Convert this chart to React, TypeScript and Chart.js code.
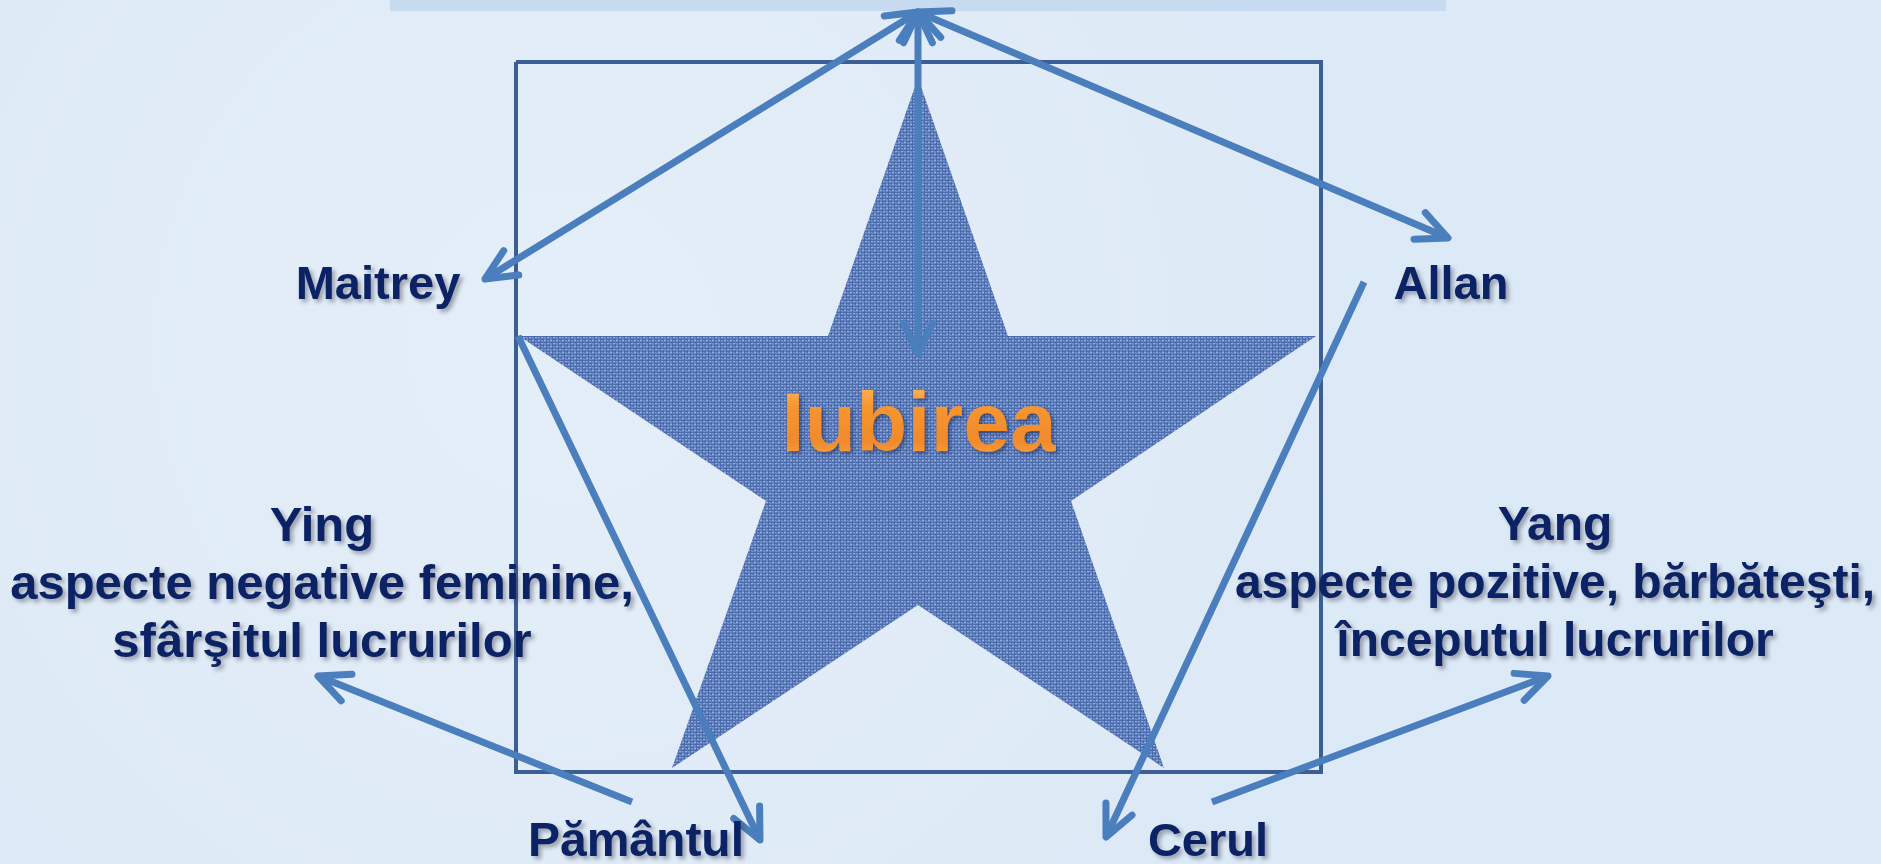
import React, { useEffect, useRef, useState } from 'react';
import { Chart, registerables } from 'chart.js';

Chart.register(...registerables);

const W = 1881;
const H = 864;

// top banner (polygon)
const barX = [390, 1446, 1446, 390, 390];
const barY = [0, 0, 11, 11, 0];

// frame square
const squareX = [516, 1321, 1321, 516, 516];
const squareY = [62, 62, 772, 772, 62];

// star polygon
const starX = [918, 1008, 1316, 1071, 1164, 918, 672, 766, 519, 828, 918];
const starY = [78, 336, 336, 501, 768, 605, 768, 501, 336, 336, 78];

// arrows
const arrowFromX = [918, 918, 918, 518, 1364, 632, 1212];
const arrowFromY = [12, 12, 12, 336, 282, 802, 802];
const arrowToX = [485, 1448, 918, 760, 1106, 318, 1548];
const arrowToY = [279, 238, 354, 840, 837, 676, 676];
const arrowBoth = [true, true, true, false, false, false, false];

// labels
const labelTexts = [
  'Maitrey',
  'Allan',
  'Ying\naspecte negative feminine,\nsfârşitul lucrurilor',
  'Yang\naspecte pozitive, bărbăteşti,\nînceputul lucrurilor',
  'Pământul',
  'Cerul',
];
const labelX = [378, 1451, 322, 1555, 636, 1208];
const labelY = [283, 283, 582, 582, 840, 840];
const labelSizes = [47, 47, 49, 48, 48, 47];

const centerText = 'Iubirea';
const centerX = 919;
const centerY = 422;

const ARROW_COLOR = '#4a7ebd';
const TEXT_COLOR = '#0b2264';

function pts(xs: number[], ys: number[]) {
  return xs.map((x, i) => ({ x, y: ys[i] }));
}

export default function App() {
  const canvasRef = useRef<HTMLCanvasElement>(null);
  const [pos, setPos] = useState<{ x: number; y: number }[]>([]);
  const [cpos, setCpos] = useState<{ x: number; y: number } | null>(null);

  useEffect(() => {
    document.body.style.margin = '0';
    document.body.style.overflow = 'hidden';
    const cv = canvasRef.current!;
    // woven texture tile for the star
    const pc = document.createElement('canvas');
    pc.width = 6;
    pc.height = 6;
    const pctx = pc.getContext('2d')!;
    pctx.fillStyle = '#6787c4';
    pctx.fillRect(0, 0, 6, 6);
    pctx.fillStyle = '#4c6bab';
    pctx.fillRect(0, 0, 6, 1);
    pctx.fillRect(0, 3, 3, 1);
    pctx.fillRect(0, 0, 1, 6);
    pctx.fillRect(3, 2, 1, 3);
    pctx.fillStyle = '#93afe0';
    pctx.fillRect(1, 1, 2, 1);
    pctx.fillRect(4, 4, 2, 1);
    pctx.fillStyle = '#7b99d2';
    pctx.fillRect(4, 1, 1, 1);
    pctx.fillRect(1, 4, 1, 1);
    const pattern = cv.getContext('2d')!.createPattern(pc, 'repeat');

    const datasets: any[] = [];
    datasets.push({
      label: 'bar',
      data: pts(barX, barY),
      showLine: true,
      fill: 'shape',
      backgroundColor: '#c6daf0',
      borderColor: 'transparent',
      borderWidth: 0,
      pointRadius: 0,
      order: 10,
    });
    datasets.push({
      label: 'star',
      data: pts(starX, starY),
      showLine: true,
      fill: 'shape',
      backgroundColor: pattern,
      borderColor: 'transparent',
      borderWidth: 0,
      pointRadius: 0,
      order: 9,
    });
    datasets.push({
      label: 'square',
      data: pts(squareX, squareY),
      showLine: true,
      fill: false,
      borderColor: '#3b5f94',
      borderWidth: 4,
      borderJoinStyle: 'miter',
      pointRadius: 0,
      order: 8,
    });
    arrowFromX.forEach((fx, i) => {
      datasets.push({
        label: 'arrow' + i,
        data: [
          { x: fx, y: arrowFromY[i] },
          { x: arrowToX[i], y: arrowToY[i] },
        ],
        showLine: true,
        fill: false,
        borderColor: ARROW_COLOR,
        borderWidth: 7,
        pointRadius: 0,
        order: 1,
        arrowHead: true,
        arrowStart: arrowBoth[i],
      });
    });

    const arrowPlugin = {
      id: 'arrowHeads',
      afterDatasetsDraw(chart: any) {
        const ctx = chart.ctx;
        chart.data.datasets.forEach((ds: any, i: number) => {
          if (!ds.arrowHead) return;
          const meta = chart.getDatasetMeta(i);
          const a = meta.data[0];
          const b = meta.data[1];
          const head = (tip: any, from: any) => {
            const ang = Math.atan2(from.y - tip.y, from.x - tip.x);
            const L = 34;
            const spread = (25 * Math.PI) / 180;
            ctx.save();
            ctx.strokeStyle = ds.borderColor;
            ctx.lineWidth = 7;
            ctx.lineCap = 'round';
            ctx.lineJoin = 'round';
            ctx.beginPath();
            ctx.moveTo(tip.x + L * Math.cos(ang + spread), tip.y + L * Math.sin(ang + spread));
            ctx.lineTo(tip.x, tip.y);
            ctx.lineTo(tip.x + L * Math.cos(ang - spread), tip.y + L * Math.sin(ang - spread));
            ctx.stroke();
            ctx.restore();
          };
          head(b, a);
          if (ds.arrowStart) head(a, b);
        });
      },
    };

    const chart = new Chart(cv, {
      type: 'scatter',
      data: { datasets },
      options: {
        animation: false,
        responsive: false,
        events: [],
        layout: { padding: 0 },
        plugins: { legend: { display: false }, tooltip: { enabled: false } },
        scales: {
          x: { type: 'linear', min: 0, max: W, display: false },
          y: { type: 'linear', min: 0, max: H, reverse: true, display: false },
        },
      } as any,
      plugins: [arrowPlugin],
    });

    setPos(
      labelX.map((x, i) => ({
        x: chart.scales.x.getPixelForValue(x),
        y: chart.scales.y.getPixelForValue(labelY[i]),
      }))
    );
    setCpos({
      x: chart.scales.x.getPixelForValue(centerX),
      y: chart.scales.y.getPixelForValue(centerY),
    });

    return () => chart.destroy();
  }, []);

  return (
    <div
      style={{
        position: 'relative',
        width: W,
        height: H,
        overflow: 'hidden',
        background:
          'radial-gradient(circle at 30% 40%, rgba(255,255,255,0.25), rgba(255,255,255,0) 60%), #dce9f6',
      }}
    >
      <canvas ref={canvasRef} width={W} height={H} style={{ position: 'absolute', left: 0, top: 0 }} />
      {pos.map((p, i) => (
        <div
          key={i}
          style={{
            position: 'absolute',
            left: p.x,
            top: p.y,
            transform: 'translate(-50%, -50%)',
            whiteSpace: 'pre',
            textAlign: 'center',
            fontFamily: '"Liberation Sans", Arial, sans-serif',
            fontWeight: 'bold',
            fontSize: labelSizes[i],
            lineHeight: '58px',
            color: TEXT_COLOR,
            textShadow: '3px 3px 4px rgba(60,60,80,0.45)',
          }}
        >
          {labelTexts[i]}
        </div>
      ))}
      {cpos && (
        <div
          style={{
            position: 'absolute',
            left: cpos.x,
            top: cpos.y,
            transform: 'translate(-50%, -50%)',
            whiteSpace: 'pre',
            fontFamily: '"Liberation Sans", Arial, sans-serif',
            fontWeight: 'bold',
            fontSize: 84,
            lineHeight: '96px',
            background: 'linear-gradient(to bottom, #ffc070 0%, #f7952f 35%, #f08a2c 70%, #ffb24c 100%)',
            WebkitBackgroundClip: 'text',
            backgroundClip: 'text',
            color: 'transparent',
            WebkitTextFillColor: 'transparent',
            filter: 'drop-shadow(2px 2px 2px rgba(20,30,70,0.55))',
          }}
        >
          {centerText}
        </div>
      )}
    </div>
  );
}
